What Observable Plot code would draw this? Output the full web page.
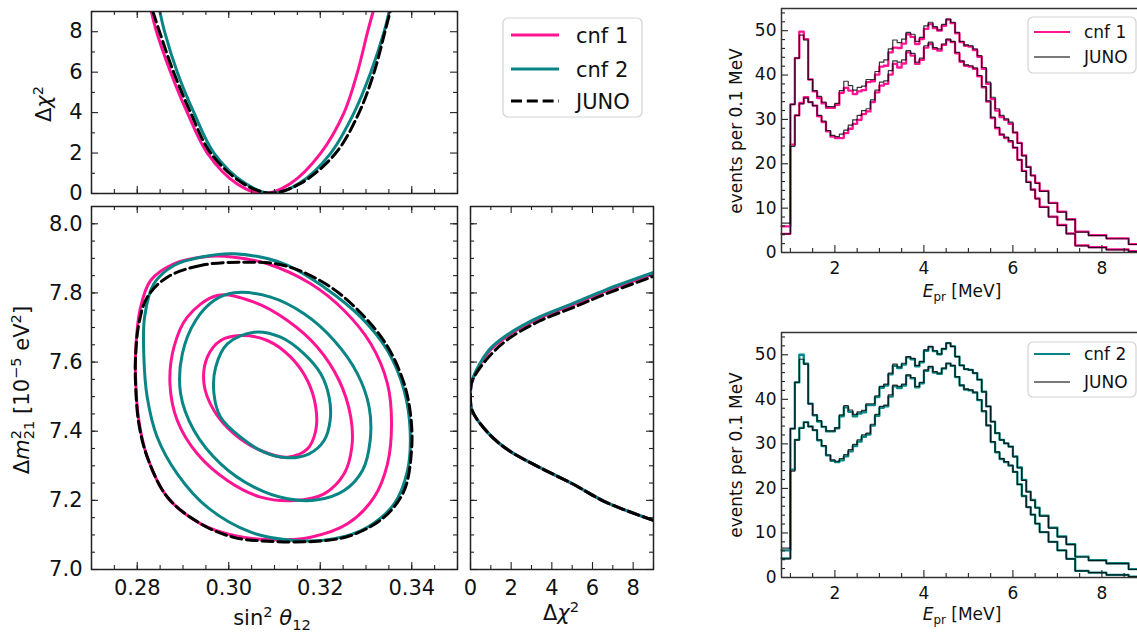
<!DOCTYPE html>
<html><head><meta charset="utf-8">
<script src="https://cdn.jsdelivr.net/npm/d3@7"></script>
<script src="https://cdn.jsdelivr.net/npm/@observablehq/plot@0.6"></script>
<style>
html,body{margin:0;padding:0;background:#fff;}
#wrap{position:relative;width:1137px;height:634px;overflow:hidden;background:#fff;font-family:"DejaVu Sans";}
</style></head><body><div id="wrap"></div>
<script>
// ---------------- DATA ----------------
const PINK = "#ff1493", TEAL = "#0a8585";

// contours in (sin^2 theta12, dm21^2 [1e-5 eV^2])
const cnf1_outer = [[0.29531,7.9054],[0.28801,7.8843],[0.28291,7.8360],[0.28057,7.7492],[0.27970,7.6431],[0.27963,7.5563],[0.28035,7.4310],[0.28220,7.3250],[0.28660,7.2090],[0.29390,7.1320],[0.30114,7.0983],[0.30989,7.0858],[0.31792,7.0935],[0.32595,7.1321],[0.33178,7.2092],[0.33470,7.3056],[0.33558,7.4215],[0.33470,7.5372],[0.33105,7.6529],[0.32521,7.7492],[0.31792,7.8264],[0.30844,7.8843],[0.30114,7.9034]];
const cnf1_mid = [[0.29750,7.7926],[0.30553,7.7733],[0.31282,7.7203],[0.31938,7.6431],[0.32413,7.5467],[0.32668,7.4406],[0.32690,7.3538],[0.32522,7.2767],[0.32084,7.2189],[0.31428,7.1995],[0.30698,7.2092],[0.29969,7.2574],[0.29313,7.3346],[0.28875,7.4310],[0.28715,7.5370],[0.28802,7.6431],[0.29094,7.7299]];
const cnf1_in = [[0.30261,7.6769],[0.30844,7.6624],[0.31355,7.6142],[0.31720,7.5467],[0.31902,7.4696],[0.31902,7.4021],[0.31720,7.3490],[0.31282,7.3249],[0.30698,7.3442],[0.30115,7.3924],[0.29677,7.4599],[0.29459,7.5370],[0.29532,7.6142],[0.29823,7.6624]];
const cnf2_outer = [[0.30114,7.9132],[0.29385,7.9034],[0.28801,7.8794],[0.28363,7.8264],[0.28160,7.7299],[0.28145,7.6141],[0.28218,7.4984],[0.28437,7.3827],[0.28875,7.2768],[0.29531,7.1802],[0.30479,7.1079],[0.31427,7.0839],[0.32302,7.0888],[0.33032,7.1224],[0.33615,7.1900],[0.33907,7.2864],[0.33965,7.4021],[0.33834,7.5178],[0.33470,7.6335],[0.32886,7.7299],[0.32083,7.8166],[0.31208,7.8843]];
const cnf2_mid = [[0.30115,7.8003],[0.30917,7.7878],[0.31647,7.7396],[0.32303,7.6624],[0.32814,7.5660],[0.33069,7.4695],[0.33091,7.3731],[0.32923,7.2863],[0.32522,7.2285],[0.31938,7.2015],[0.31282,7.2044],[0.30553,7.2381],[0.29823,7.3056],[0.29240,7.4020],[0.28948,7.5081],[0.28985,7.6238],[0.29276,7.7203],[0.29678,7.7781]];
const cnf2_in = [[0.30553,7.6865],[0.31136,7.6720],[0.31647,7.6238],[0.32011,7.5660],[0.32194,7.4985],[0.32216,7.4310],[0.32084,7.3731],[0.31756,7.3345],[0.31282,7.3230],[0.30771,7.3394],[0.30261,7.3828],[0.29823,7.4406],[0.29677,7.5081],[0.29714,7.5853],[0.29969,7.6528]];
const juno_outer = [[0.30260,7.8890],[0.29385,7.8794],[0.28656,7.8455],[0.28218,7.7877],[0.28035,7.7107],[0.27963,7.6141],[0.27963,7.5371],[0.28035,7.4215],[0.28220,7.3250],[0.28660,7.2090],[0.29390,7.1320],[0.30110,7.0930],[0.30844,7.0819],[0.31938,7.0819],[0.32667,7.0983],[0.33396,7.1513],[0.33834,7.2285],[0.33995,7.3442],[0.33980,7.4406],[0.33834,7.5372],[0.33470,7.6450],[0.32886,7.7420],[0.32157,7.8230],[0.31208,7.8794]];

// Delta chi^2 profiles vs sin^2 theta12: [s, dchi2]
const prof_s_cnf1 = [[0.28306,9],[0.28422,8],[0.28729,6],[0.29094,4],[0.29531,2],[0.30170,0.5],[0.30750,0],[0.31350,0.5],[0.32011,2],[0.32521,4],[0.32814,6],[0.33036,8],[0.33156,9]];
const prof_s_cnf2 = [[0.28495,9],[0.28597,8],[0.28875,6],[0.29239,4],[0.29677,2],[0.30360,0.5],[0.30950,0],[0.31540,0.5],[0.32230,2],[0.32740,4],[0.33105,6],[0.33396,8],[0.33506,9]];
const prof_s_juno = [[0.28342,9],[0.28487,8],[0.28795,6],[0.29166,4],[0.29604,2],[0.30310,0.5],[0.30920,0.02],[0.31570,0.5],[0.32340,2],[0.32849,4],[0.33178,6],[0.33414,8],[0.33528,9]];

// Delta chi^2 profiles vs dm21^2: [dchi2, m]
const prof_m_cnf1 = [[9,7.142],[6.65,7.195],[5.01,7.248],[3.37,7.296],[1.89,7.344],[0.90,7.393],[0.08,7.460],[0,7.503],[0.08,7.545],[0.90,7.630],[1.89,7.678],[3.37,7.726],[5.01,7.765],[6.65,7.805],[9,7.855]];
const prof_m_cnf2 = [[9,7.142],[6.65,7.195],[5.01,7.248],[3.37,7.296],[1.89,7.344],[0.90,7.393],[0.08,7.460],[0,7.503],[0.08,7.547],[0.90,7.634],[1.89,7.682],[3.37,7.730],[5.01,7.769],[6.65,7.809],[9,7.859]];
const prof_m_juno = [[9,7.142],[6.65,7.195],[5.01,7.248],[3.37,7.296],[1.89,7.344],[0.90,7.393],[0.08,7.460],[0,7.503],[0.08,7.545],[0.90,7.615],[1.89,7.668],[3.37,7.718],[5.01,7.757],[6.65,7.797],[9,7.848]];

// spectra: bin edges [MeV] and events per 0.1 MeV
const binEdges = [0.8,0.9,1.0,1.1,1.2,1.3,1.4,1.5,1.6,1.7,1.8,1.9,2.0,2.1,2.2,2.3,2.4,2.5,2.6,2.7,2.8,2.9,3.0,3.1,3.2,3.3,3.4,3.5,3.6,3.7,3.8,3.9,4.0,4.1,4.2,4.3,4.4,4.5,4.6,4.7,4.8,4.9,5.0,5.1,5.2,5.3,5.4,5.5,5.6,5.7,5.8,5.9,6.0,6.1,6.2,6.3,6.4,6.5,6.6,6.7,6.8,6.9,7.0,7.1,7.2,7.3,7.4,7.5,7.6,7.7,7.8,7.9,8.0,8.1,8.2,8.3,8.4,8.5,8.6,8.7,8.8];
const juno_hi = [6.6,6.6,33.4,43.8,49.0,47.9,39.0,36.5,35.2,33.9,32.9,32.9,33.6,36.5,38.6,37.6,36.6,37.2,37.5,39.0,39.0,40.8,42.9,43.4,45.9,47.9,47.3,48.1,49.6,49.2,47.6,48.5,51.1,51.9,50.9,50.2,51.4,52.6,51.9,49.6,47.6,46.8,46.6,45.9,44.4,41.7,38.4,35.0,32.4,30.9,30.1,29.4,27.1,24.6,21.8,19.2,17.3,15.6,13.8,13.8,11.1,11.1,9.1,9.1,7.4,7.4,4.6,4.6,4.6,3.8,3.8,3.8,3.8,3.1,3.1,3.1,3.1,3.1,1.8,1.8];
const juno_lo = [4.2,4.2,23.9,30.9,33.5,34.8,33.9,33.1,30.9,29.6,27.5,26.4,26.1,26.7,27.6,28.7,29.9,30.9,32.0,32.4,34.4,36.6,38.4,38.7,41.0,43.2,42.9,43.4,45.5,44.9,42.9,43.8,46.6,47.4,46.2,45.9,47.0,48.1,47.6,45.1,43.2,42.3,42.1,41.6,39.9,37.4,34.2,30.5,28.2,26.7,26.0,25.2,23.7,20.9,18.3,15.8,14.1,12.1,10.2,10.2,8.0,8.0,6.1,6.1,4.2,4.2,1.5,1.5,1.5,1.1,1.1,1.1,1.1,0.6,0.6,0.6,0.6,0.6,0.2,0.2];
const cnf1_hi = [5.9,5.9,33.4,43.8,49.8,48.1,39.0,36.3,34.8,33.6,32.6,32.6,33.3,36.0,37.1,36.5,35.7,36.3,36.6,38.4,38.6,40.1,41.9,42.1,45.1,46.2,46.1,47.1,49.2,48.6,47.0,48.1,50.4,51.5,50.6,50.0,51.1,52.5,51.7,49.4,47.4,46.6,46.4,45.6,44.1,41.4,38.0,34.6,32.0,30.5,29.9,29.0,27.0,24.7,21.9,19.3,17.4,15.7,13.9,13.9,11.2,11.2,9.2,9.2,7.5,7.5,4.7,4.7,4.7,3.9,3.9,3.9,3.9,3.2,3.2,3.2,3.2,3.2,1.9,1.9];
const cnf1_lo = [4.2,4.2,24.3,30.9,33.7,35.0,33.9,33.1,30.7,29.4,27.3,26.1,25.8,25.8,26.9,27.9,29.0,29.9,31.2,31.8,33.9,36.1,37.6,38.0,40.1,42.5,41.7,42.6,45.1,44.4,42.5,43.4,46.2,47.0,45.9,45.5,46.8,47.9,47.4,44.9,43.0,42.1,41.9,41.4,39.7,37.2,34.0,30.3,28.0,26.5,25.8,25.0,23.6,20.9,18.4,15.9,14.2,12.2,10.3,10.3,8.1,8.1,6.2,6.2,4.3,4.3,1.6,1.6,1.6,1.2,1.2,1.2,1.2,0.7,0.7,0.7,0.7,0.7,0.3,0.3];
const cnf2_hi = [6.1,6.1,33.4,43.8,50.0,48.0,39.0,36.4,35.0,33.8,32.8,32.8,33.5,36.2,38.2,37.2,36.2,36.8,37.1,38.7,38.7,40.5,42.6,43.1,45.6,47.5,47.0,47.8,49.4,49.0,47.4,48.3,50.9,51.7,50.8,50.1,51.3,52.6,51.9,49.6,47.6,46.8,46.6,45.9,44.4,41.7,38.4,35.0,32.4,30.9,30.1,29.4,27.2,24.7,21.9,19.3,17.4,15.7,13.9,13.9,11.2,11.2,9.2,9.2,7.5,7.5,4.7,4.7,4.7,3.9,3.9,3.9,3.9,3.2,3.2,3.2,3.2,3.2,1.9,1.9];
const cnf2_lo = [4.3,4.3,24.2,30.9,33.6,34.9,33.9,33.1,30.8,29.5,27.4,26.2,25.9,26.3,27.2,28.3,29.5,30.5,31.6,32.1,34.1,36.3,38.1,38.4,40.6,42.9,42.5,43.1,45.3,44.7,42.7,43.6,46.4,47.2,46.0,45.7,46.9,48.0,47.5,45.0,43.1,42.2,42.0,41.5,39.8,37.3,34.1,30.4,28.1,26.6,25.9,25.1,23.7,20.9,18.3,15.8,14.1,12.1,10.2,10.2,8.0,8.0,6.1,6.1,4.2,4.2,1.5,1.5,1.5,1.1,1.1,1.1,1.1,0.6,0.6,0.6,0.6,0.6,0.2,0.2];

// ticks
const sinMajor = [0.28,0.30,0.32,0.34];
const sinMinor = [0.27,0.275,0.28,0.285,0.29,0.295,0.30,0.305,0.31,0.315,0.32,0.325,0.33,0.335,0.34,0.345,0.35];
const dmMajor = [7.0,7.2,7.4,7.6,7.8,8.0];
const dmMinor = [7.05,7.1,7.15,7.2,7.25,7.3,7.35,7.4,7.45,7.5,7.55,7.6,7.65,7.7,7.75,7.8,7.85,7.9,7.95,8.0];
const chiMajor = [0,2,4,6,8];
const chiMinor = [1,3,5,7,9];
const evMajor = [0,10,20,30,40,50];
const evMinor = [2,4,6,8,12,14,16,18,22,24,26,28,32,34,36,38,42,44,46,48,52,54];
const eMajor = [2,4,6,8];
const eMinor = [1,1.5,2.5,3,3.5,4.5,5,5.5,6.5,7,7.5,8.5];

// ---------------- LAYOUT ----------------
const W = 1137, H = 634;
const P = {
  top:  {x0: 91,  x1: 457,  y0: 11,  y1: 193, xd: [0.27, 0.35], yd: [0, 9]},
  main: {x0: 91,  x1: 457,  y0: 206, y1: 569, xd: [0.27, 0.35], yd: [7.0, 8.05]},
  side: {x0: 470, x1: 653,  y0: 206, y1: 569, xd: [0, 9],       yd: [7.0, 8.05]},
  h1:   {x0: 781, x1: 1137, y0: 8,   y1: 252, xd: [0.8, 8.8],   yd: [0, 55]},
  h2:   {x0: 781, x1: 1137, y0: 332, y1: 577, xd: [0.8, 8.8],   yd: [0, 55]}
};
const wrap = document.getElementById("wrap");

function ticks(p, t) {
  const kx = (p.xd[1]-p.xd[0])/(p.x1-p.x0), ky = (p.yd[1]-p.yd[0])/(p.y1-p.y0);
  const st = {stroke: "#222", strokeWidth: 1.1};
  const M = 7, m = 4, out = [];
  const id = d => d;
  if (t.bottom) out.push(Plot.ruleX(t.xMin, {x: id, y1: p.yd[0], y2: p.yd[0]+m*ky, ...st}), Plot.ruleX(t.xMaj, {x: id, y1: p.yd[0], y2: p.yd[0]+M*ky, ...st}));
  if (t.top) out.push(Plot.ruleX(t.xMin, {x: id, y1: p.yd[1], y2: p.yd[1]-m*ky, ...st}), Plot.ruleX(t.xMaj, {x: id, y1: p.yd[1], y2: p.yd[1]-M*ky, ...st}));
  if (t.left) out.push(Plot.ruleY(t.yMin, {y: id, x1: p.xd[0], x2: p.xd[0]+m*kx, ...st}), Plot.ruleY(t.yMaj, {y: id, x1: p.xd[0], x2: p.xd[0]+M*kx, ...st}));
  if (t.right) out.push(Plot.ruleY(t.yMin, {y: id, x1: p.xd[1], x2: p.xd[1]-m*kx, ...st}), Plot.ruleY(t.yMaj, {y: id, x1: p.xd[1], x2: p.xd[1]-M*kx, ...st}));
  return out;
}

function mk(p, marks) {
  const svg = Plot.plot({
    width: W, height: H,
    marginLeft: p.x0, marginRight: W - p.x1, marginTop: p.y0, marginBottom: H - p.y1,
    x: {domain: p.xd, axis: null}, y: {domain: p.yd, axis: null},
    style: {position: "absolute", left: "0px", top: "0px", background: "transparent", fontFamily: "DejaVu Sans", color: "#111", overflow: "visible"},
    marks
  });
  wrap.appendChild(svg);
}
const X0 = d => d[0], Y1 = d => d[1];
const lw = 3, dash = "11,4.8";

// top profile panel
mk(P.top, [
  Plot.line(prof_s_cnf1, {x: X0, y: Y1, curve: "catmull-rom", stroke: PINK, strokeWidth: lw, clip: true}),
  Plot.line(prof_s_cnf2, {x: X0, y: Y1, curve: "catmull-rom", stroke: TEAL, strokeWidth: lw, clip: true}),
  Plot.line(prof_s_juno, {x: X0, y: Y1, curve: "catmull-rom", stroke: "black", strokeWidth: lw, strokeDasharray: dash, clip: true}),
  ...ticks(P.top, {xMaj: sinMajor, xMin: sinMinor, yMaj: chiMajor, yMin: chiMinor, top: 1, bottom: 1, left: 1, right: 1}),
  Plot.frame({stroke: "#222", strokeWidth: 1.5}),
  Plot.axisY({ticks: chiMajor, anchor: "left", tickSize: 0, tickPadding: 9, fontSize: 21, label: null, tickFormat: d => String(d)})
]);

// main contour panel
const cl = (data, stroke, extra = {}) => Plot.line(data, {x: X0, y: Y1, curve: "catmull-rom-closed", stroke, strokeWidth: lw, clip: true, ...extra});
mk(P.main, [
  cl(cnf1_outer, PINK), cl(cnf1_mid, PINK), cl(cnf1_in, PINK),
  cl(cnf2_outer, TEAL), cl(cnf2_mid, TEAL), cl(cnf2_in, TEAL),
  cl(juno_outer, "black", {strokeDasharray: dash}),
  ...ticks(P.main, {xMaj: sinMajor, xMin: sinMinor, yMaj: dmMajor, yMin: dmMinor, top: 1, bottom: 1, left: 1, right: 1}),
  Plot.frame({stroke: "#222", strokeWidth: 1.5}),
  Plot.axisX({ticks: sinMajor, anchor: "bottom", tickSize: 0, tickPadding: 11, fontSize: 21, label: null, tickFormat: d => d.toFixed(2)}),
  Plot.axisY({ticks: dmMajor, anchor: "left", tickSize: 0, tickPadding: 9, fontSize: 21, label: null, tickFormat: d => d.toFixed(1)})
]);

// side profile panel
mk(P.side, [
  Plot.line(prof_m_cnf1, {x: X0, y: Y1, curve: "catmull-rom", stroke: PINK, strokeWidth: lw, clip: true}),
  Plot.line(prof_m_cnf2, {x: X0, y: Y1, curve: "catmull-rom", stroke: TEAL, strokeWidth: lw, clip: true}),
  Plot.line(prof_m_juno, {x: X0, y: Y1, curve: "catmull-rom", stroke: "black", strokeWidth: lw, strokeDasharray: dash, clip: true}),
  ...ticks(P.side, {xMaj: chiMajor, xMin: chiMinor, yMaj: dmMajor, yMin: dmMinor, top: 1, bottom: 1, left: 1, right: 1}),
  Plot.frame({stroke: "#222", strokeWidth: 1.5}),
  Plot.axisX({ticks: chiMajor, anchor: "bottom", tickSize: 0, tickPadding: 11, fontSize: 21, label: null, tickFormat: d => String(d)})
]);

// spectra
function stepData(vals) {
  const pts = vals.map((v, i) => ({x: binEdges[i], y: v}));
  pts.push({x: binEdges[vals.length], y: vals[vals.length - 1]});
  return pts;
}
function hist(p, hi, lo, col) {
  mk(p, [
    Plot.line(stepData(hi), {x: "x", y: "y", curve: "step-after", stroke: col, strokeWidth: 2.3}),
    Plot.line(stepData(lo), {x: "x", y: "y", curve: "step-after", stroke: col, strokeWidth: 2.3}),
    Plot.line(stepData(juno_hi), {x: "x", y: "y", curve: "step-after", stroke: "black", strokeWidth: 1.2, strokeOpacity: 0.8}),
    Plot.line(stepData(juno_lo), {x: "x", y: "y", curve: "step-after", stroke: "black", strokeWidth: 1.2, strokeOpacity: 0.8}),
    ...ticks(p, {xMaj: eMajor, xMin: eMinor, yMaj: evMajor, yMin: evMinor, bottom: 1, left: 1}),
    Plot.ruleY([p.yd[0], p.yd[1]], {stroke: "#333", strokeWidth: 1.5}),
    Plot.ruleX([p.xd[0]], {stroke: "#333", strokeWidth: 1.5}),
    Plot.axisX({ticks: eMajor, anchor: "bottom", tickSize: 0, tickPadding: 9, fontSize: 17, label: null, tickFormat: d => String(d)}),
    Plot.axisY({ticks: evMajor, anchor: "left", tickSize: 0, tickPadding: 5, fontSize: 17, label: null, tickFormat: d => String(d)})
  ]);
}
hist(P.h1, cnf1_hi, cnf1_lo, PINK);
hist(P.h2, cnf2_hi, cnf2_lo, TEAL);

// ---------------- LABELS & LEGENDS ----------------
const ov = d3.create("svg").attr("width", W).attr("height", H)
  .style("position", "absolute").style("left", "0px").style("top", "0px");
function rich(x, y, parts, size, rotate = 0, anchor = "middle") {
  const t = ov.append("text").attr("transform", `translate(${x},${y}) rotate(${rotate})`)
    .attr("text-anchor", anchor).attr("font-size", size).attr("font-family", "DejaVu Sans").attr("fill", "#111");
  let cur = 0;
  for (const p of parts) {
    const target = p.sup ? -0.4 * size : p.sub ? 0.22 * size : 0;
    const ts = t.append("tspan").text(p.t).attr("dy", target - cur);
    if (p.sup || p.sub) ts.attr("font-size", size * 0.7);
    if (p.i) ts.attr("font-style", "italic");
    if (p.dx) ts.attr("dx", p.dx);
    cur = target;
  }
}
const chiLabel = [{t: "Δ"}, {t: "χ", i: true}, {t: "2", sup: true}];
rich(272, 625, [{t: "sin"}, {t: "2", sup: true}, {t: " "}, {t: "θ", i: true}, {t: "12", sub: true}], 21);
rich(29, 390, [{t: "Δ"}, {t: "m", i: true}, {t: "2", sup: true}, {t: "21", sub: true, dx: -9.3}, {t: " [10"}, {t: "−5", sup: true}, {t: " eV"}, {t: "2", sup: true}, {t: "]"}], 21, -90);
rich(51, 104, chiLabel, 21, -90);
rich(561, 620, chiLabel, 21);
rich(962, 297, [{t: "E", i: true}, {t: "pr", sub: true}, {t: " [MeV]"}], 17);
rich(962, 620, [{t: "E", i: true}, {t: "pr", sub: true}, {t: " [MeV]"}], 17);
rich(742, 131, [{t: "events per 0.1 MeV"}], 17, -90);
rich(742, 455, [{t: "events per 0.1 MeV"}], 17, -90);

function legend(box, entries, size) {
  ov.append("rect").attr("x", box.x).attr("y", box.y).attr("width", box.w).attr("height", box.h)
    .attr("rx", 5).attr("fill", "white").attr("fill-opacity", 0.85).attr("stroke", "#d3d3d3").attr("stroke-width", 1.2);
  for (const e of entries) {
    ov.append("line").attr("x1", box.lx1).attr("x2", box.lx2).attr("y1", e.y).attr("y2", e.y)
      .attr("stroke", e.c).attr("stroke-width", e.w).attr("stroke-dasharray", e.d || null).attr("stroke-opacity", e.o || 1);
    ov.append("text").attr("x", box.tx).attr("y", e.y).attr("dy", "0.36em").attr("font-size", size)
      .attr("font-family", "DejaVu Sans").attr("fill", "#111").text(e.label);
  }
}
legend({x: 503, y: 18, w: 139, h: 99, lx1: 511, lx2: 559, tx: 576}, [
  {y: 35, c: PINK, w: 3, label: "cnf 1"},
  {y: 69, c: TEAL, w: 3, label: "cnf 2"},
  {y: 101, c: "black", w: 3, d: dash, label: "JUNO"}
], 21);
legend({x: 1028, y: 17, w: 108, h: 56, lx1: 1034, lx2: 1070, tx: 1084}, [
  {y: 32, c: PINK, w: 2, label: "cnf 1"},
  {y: 57, c: "black", w: 1.5, o: 0.7, label: "JUNO"}
], 17);
legend({x: 1028, y: 342, w: 108, h: 55, lx1: 1034, lx2: 1070, tx: 1084}, [
  {y: 354, c: TEAL, w: 2, label: "cnf 2"},
  {y: 382, c: "black", w: 1.5, o: 0.7, label: "JUNO"}
], 17);
wrap.appendChild(ov.node());
</script></body></html>
